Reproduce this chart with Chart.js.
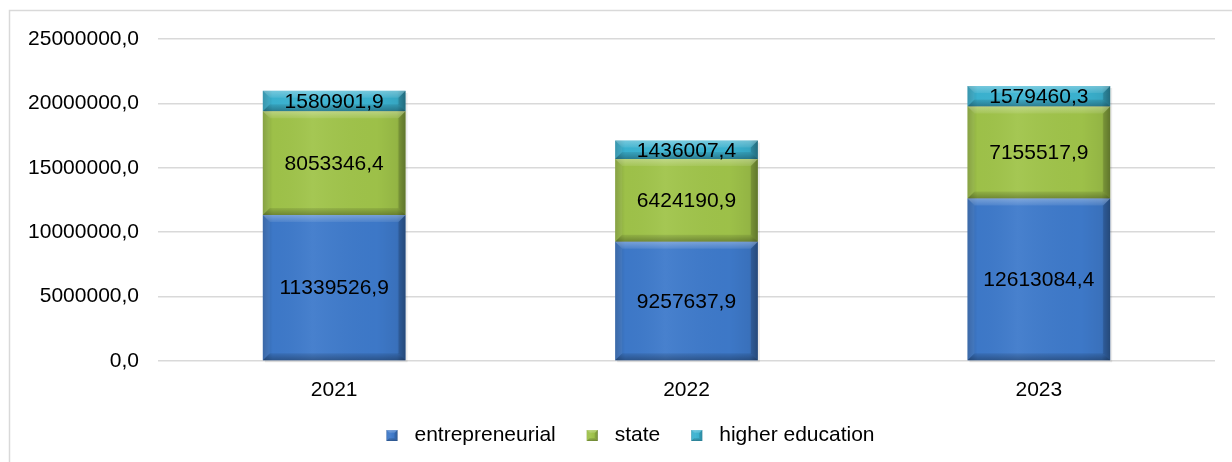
<!DOCTYPE html>
<html>
<head>
<meta charset="utf-8">
<script src="https://cdn.jsdelivr.net/npm/chart.js@4.4.1/dist/chart.umd.min.js"></script>
<style>
  html, body { margin: 0; padding: 0; background: #fff; }
  #wrap { width: 1232px; height: 462px; position: relative; }
</style>
</head>
<body>
<div id="wrap"><canvas id="c" width="1232" height="462"></canvas></div>
<script>
const categories = ['2021', '2022', '2023'];
const entrepreneurial = [11339526.9, 9257637.9, 12613084.4];
const stateValues = [8053346.4, 6424190.9, 7155517.9];
const higherEducation = [1580901.9, 1436007.4, 1579460.3];
const seriesNames = ['entrepreneurial', 'state', 'higher education'];
const yTicks = [0, 5000000, 10000000, 15000000, 20000000, 25000000];

const baseColors = ['#3e7acb', '#a0c44a', '#3bb4d2'];
const FONT = '"Liberation Sans", Arial, sans-serif';
const FS = 21;
const LEGEND_DX = 13, LEGEND_DY = -6;

function fmt(v) { return Number(v).toFixed(1).replace('.', ','); }

const framePlugin = {
  id: 'frame',
  beforeDraw(chart) {
    const ctx = chart.ctx;
    ctx.save();
    ctx.fillStyle = '#fff';
    ctx.fillRect(0, 0, chart.width, chart.height);
    ctx.strokeStyle = '#d9d9d9';
    ctx.lineWidth = 1.5;
    ctx.strokeRect(9.5, 10.5, 1400, 600);
    ctx.restore();
  }
};

function bevelRect(ctx, l, t, r, b, bev) {
  const h = b - t;
  const bv = Math.min(bev, h / 2, (r - l) / 2);
  const g = ctx.createLinearGradient(l, 0, r, 0);
  g.addColorStop(0, 'rgba(0,0,0,0.20)');
  g.addColorStop(0.07, 'rgba(0,0,0,0.02)');
  g.addColorStop(0.35, 'rgba(255,255,255,0.05)');
  g.addColorStop(0.8, 'rgba(0,0,0,0.02)');
  g.addColorStop(0.94, 'rgba(0,0,0,0.08)');
  g.addColorStop(1, 'rgba(0,0,0,0.30)');
  ctx.fillStyle = g;
  ctx.fillRect(l, t, r - l, h);
  const gt = ctx.createLinearGradient(0, t, 0, t + bv);
  gt.addColorStop(0, 'rgba(255,255,255,0.30)');
  gt.addColorStop(1, 'rgba(255,255,255,0.08)');
  ctx.beginPath();
  ctx.moveTo(l, t); ctx.lineTo(r, t); ctx.lineTo(r - bv, t + bv); ctx.lineTo(l + bv, t + bv); ctx.closePath();
  ctx.fillStyle = gt;
  ctx.fill();
  const gb = ctx.createLinearGradient(0, b - bv, 0, b);
  gb.addColorStop(0, 'rgba(0,0,0,0.08)');
  gb.addColorStop(1, 'rgba(0,0,0,0.30)');
  ctx.beginPath();
  ctx.moveTo(l, b); ctx.lineTo(r, b); ctx.lineTo(r - bv, b - bv); ctx.lineTo(l + bv, b - bv); ctx.closePath();
  ctx.fillStyle = gb;
  ctx.fill();
  ctx.beginPath();
  ctx.moveTo(l, t); ctx.lineTo(l + bv, t + bv); ctx.lineTo(l + bv, b - bv); ctx.lineTo(l, b); ctx.closePath();
  ctx.fillStyle = 'rgba(255,255,255,0.05)';
  ctx.fill();
  ctx.beginPath();
  ctx.moveTo(r, t); ctx.lineTo(r - bv, t + bv); ctx.lineTo(r - bv, b - bv); ctx.lineTo(r, b); ctx.closePath();
  ctx.fillStyle = 'rgba(0,0,0,0.14)';
  ctx.fill();
}

const bevelPlugin = {
  id: 'bevel',
  afterLayout(chart) {
    const lg = chart.legend;
    if (lg && !lg._wrapped) {
      const orig = lg.draw;
      lg.draw = function () {
        const ctx = this.ctx;
        ctx.save();
        ctx.translate(LEGEND_DX, LEGEND_DY);
        orig.apply(this, arguments);
        (this.legendHitBoxes || []).forEach((hb, i) => {
          const s = 11;
          const cy = hb.top + hb.height / 2;
          const l = hb.left, t = cy - s / 2;
          ctx.fillStyle = baseColors[i];
          ctx.fillRect(l, t, s, s);
          bevelRect(ctx, l, t, l + s, t + s, 3);
        });
        ctx.restore();
      };
      lg._wrapped = true;
    }
  },
  beforeDatasetsDraw(chart) {
    const ctx = chart.ctx;
    ctx.save();
    chart.data.datasets.forEach((ds, di) => {
      chart.getDatasetMeta(di).data.forEach(el => {
        const p = el.getProps(['x', 'y', 'base', 'width'], true);
        const l = p.x - p.width / 2, r = p.x + p.width / 2;
        const t = Math.min(p.y, p.base), b = Math.max(p.y, p.base);
        ctx.fillStyle = 'rgba(0,0,0,0.08)';
        ctx.fillRect(l + 2, t + 2, r - l, b - t);
      });
    });
    ctx.restore();
  },
  afterDatasetsDraw(chart) {
    const ctx = chart.ctx;
    ctx.save();
    chart.data.datasets.forEach((ds, di) => {
      const meta = chart.getDatasetMeta(di);
      meta.data.forEach((el) => {
        const p = el.getProps(['x', 'y', 'base', 'width'], true);
        const l = p.x - p.width / 2, r = p.x + p.width / 2;
        const t = Math.min(p.y, p.base), b = Math.max(p.y, p.base);
        bevelRect(ctx, l, t, r, b, 7);
      });
    });
    ctx.fillStyle = '#000';
    ctx.font = FS + 'px ' + FONT;
    ctx.textAlign = 'center';
    ctx.textBaseline = 'middle';
    chart.data.datasets.forEach((ds, di) => {
      const meta = chart.getDatasetMeta(di);
      meta.data.forEach((el, i) => {
        const p = el.getProps(['x', 'y', 'base'], true);
        ctx.fillText(fmt(ds.data[i]), p.x, (p.y + p.base) / 2 + 1);
      });
    });
    ctx.restore();
  }
};

new Chart(document.getElementById('c'), {
  type: 'bar',
  data: {
    labels: categories,
    datasets: [
      { label: seriesNames[0], data: entrepreneurial, backgroundColor: baseColors[0] },
      { label: seriesNames[1], data: stateValues, backgroundColor: baseColors[1] },
      { label: seriesNames[2], data: higherEducation, backgroundColor: baseColors[2] }
    ]
  },
  options: {
    responsive: false,
    animation: false,
    devicePixelRatio: 1,
    layout: { padding: { left: 20, right: 17, top: 39, bottom: 0 } },
    datasets: { bar: { categoryPercentage: 1, barPercentage: 0.405, borderWidth: 0 } },
    plugins: {
      legend: {
        position: 'bottom',
        align: 'center',
        labels: {
          font: { family: FONT, size: FS },
          color: '#000',
          boxWidth: 17.5,
          boxHeight: 11,
          padding: 31,
          generateLabels(chart) {
            return chart.data.datasets.map((ds, i) => ({
              text: ds.label,
              fillStyle: 'rgba(0,0,0,0)',
              strokeStyle: 'rgba(0,0,0,0)',
              lineWidth: 0,
              hidden: false,
              datasetIndex: i,
              fontColor: '#000'
            }));
          }
        }
      },
      tooltip: { enabled: false }
    },
    scales: {
      x: {
        stacked: true,
        grid: { display: false, drawTicks: false },
        border: { display: false },
        ticks: { font: { family: FONT, size: FS }, color: '#000', padding: 17 },
        afterFit(scale) { scale.height = 39; }
      },
      y: {
        stacked: true,
        min: 0,
        max: 25000000,
        afterBuildTicks(scale) { scale.ticks = yTicks.map(v => ({ value: v })); },
        grid: { color: '#d9d9d9', lineWidth: 1.5, drawTicks: false },
        border: { display: false },
        ticks: {
          font: { family: FONT, size: FS },
          color: '#000',
          padding: 19,
          callback: v => fmt(v)
        },
        afterFit(scale) { scale.width = 138; }
      }
    }
  },
  plugins: [framePlugin, bevelPlugin]
});
</script>
</body>
</html>
